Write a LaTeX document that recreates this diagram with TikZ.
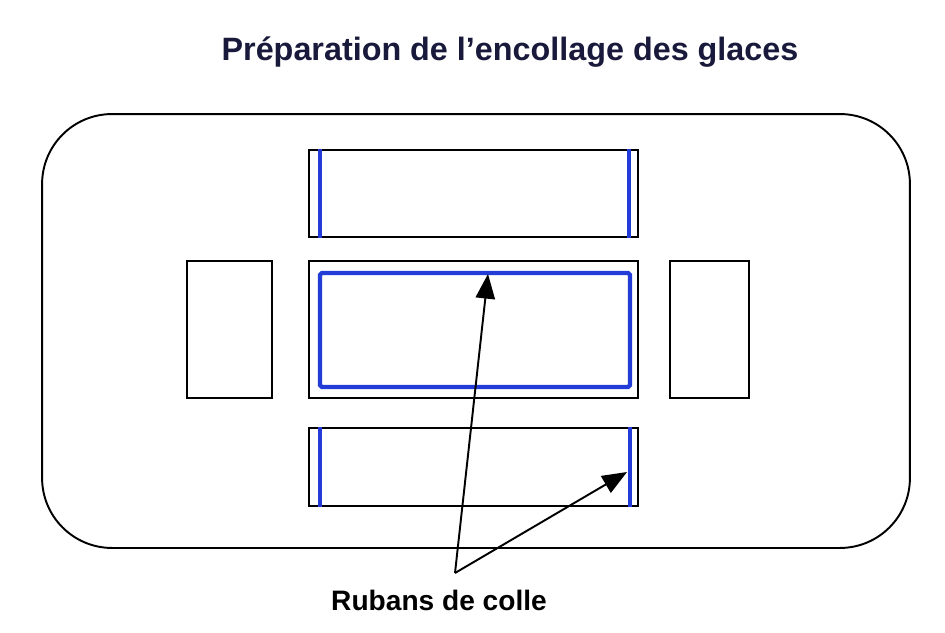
\documentclass[tikz,border=0pt]{standalone}
\usepackage{fontspec}
\setmainfont{Liberation Sans}
\usetikzlibrary{positioning, arrows.meta}
\definecolor{ruban}{RGB}{35,60,215}
\definecolor{titre}{RGB}{25,25,60}

\begin{document}
\begin{tikzpicture}[x=0.02cm, y=-0.02cm,
  glace/.style={draw, line width=1.1pt, rectangle, inner sep=0pt, minimum width=6.58cm},
  ruban/.style={draw=ruban, line width=2.4pt},
  fleche/.style={-{Triangle[length=14pt, width=11pt]}, line width=1.1pt}]
\useasboundingbox (0,0) rectangle (945,632);

% Title
\node (titre) at (510,60) [anchor=base, font=\bfseries\fontsize{18.4}{22}\selectfont, text=titre] {Préparation de l’encollage des glaces};

% Table
\node (table) at (476,331) [draw, line width=1.1pt, rounded corners=1.4cm, minimum width=17.36cm, minimum height=8.68cm] {};

% Glaces
\node (haut) at (473.5,193.5) [glace, minimum height=1.74cm] {};
\node (milieu) at (473.5,329.5) [glace, minimum height=2.74cm] {};
\node (bas) at (473.5,467) [glace, minimum height=1.56cm] {};
\node (gauche) at (229.5,329.5) [glace, minimum width=1.7cm, minimum height=2.74cm] {};
\node (droite) at (709.5,329.5) [glace, minimum width=1.58cm, minimum height=2.74cm] {};

% Rubans de colle
\draw[ruban] ([xshift=0.24cm]haut.north west) -- ([xshift=0.24cm]haut.south west);
\draw[ruban] ([xshift=-0.2cm]haut.north east) -- ([xshift=-0.2cm]haut.south east);
\node (colle) at (475,330) [ruban, rounded corners=1pt, minimum width=6.2cm, minimum height=2.28cm] {};
\draw[ruban] ([xshift=0.24cm]bas.north west) -- ([xshift=0.24cm]bas.south west);
\draw[ruban] ([xshift=-0.18cm]bas.north east) -- ([xshift=-0.18cm]bas.south east);

% Legend
\node (legende) at (439,610) [anchor=base, font=\bfseries\fontsize{16}{19}\selectfont] {Rubans de colle};
\coordinate (fourche) at (455,573);
\coordinate (cibleA) at (488,274);
\coordinate (cibleB) at (627,472);
\draw[fleche] (fourche) -- (cibleA);
\draw[fleche] (fourche) -- (cibleB);
\end{tikzpicture}
\end{document}
